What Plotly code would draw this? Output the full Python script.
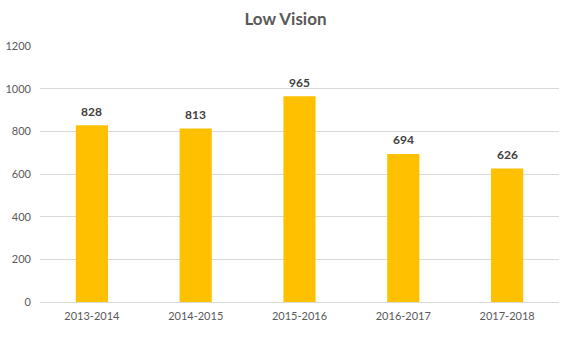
import plotly.graph_objects as go

categories = ["2013-2014", "2014-2015", "2015-2016", "2016-2017", "2017-2018"]
values = [828, 813, 965, 694, 626]
y_ticks = [0, 200, 400, 600, 800, 1000, 1200]

fig = go.Figure(go.Bar(
    x=categories, y=values,
    marker=dict(color="#FFC000", line=dict(width=0)),
    hoverinfo="x+y",
))
for c, v in zip(categories, values):
    fig.add_annotation(x=c, y=v, text=f"<b>{v}</b>", showarrow=False,
                       yanchor="middle", yshift=14,
                       font=dict(family="Lato", size=12, color="#404040"))
fig.update_layout(
    width=571, height=346,
    margin=dict(l=40, r=12, t=46, b=44, autoexpand=False),
    paper_bgcolor="white", plot_bgcolor="white",
    title=dict(text="<b>Low Vision</b>", x=0.5, xanchor="center", y=0.945, yanchor="middle",
               font=dict(family="Lato", size=17, color="#595959")),
    bargap=0.69,
    showlegend=False,
    font=dict(family="Lato", size=11, color="#595959"),
)
fig.update_yaxes(range=[0, 1200], tickvals=y_ticks, showgrid=True, gridcolor="#D9D9D9", gridwidth=1,
                 zeroline=False, showline=False, ticks="", ticklabelstandoff=8, automargin=False,
                 tickfont=dict(family="Lato", size=11, color="#595959"))
fig.update_xaxes(showline=True, linecolor="#D9D9D9", linewidth=1, ticks="", automargin=False,
                 tickfont=dict(family="Lato", size=11, color="#595959"), ticklabelstandoff=4)
fig.write_html("out.html")
